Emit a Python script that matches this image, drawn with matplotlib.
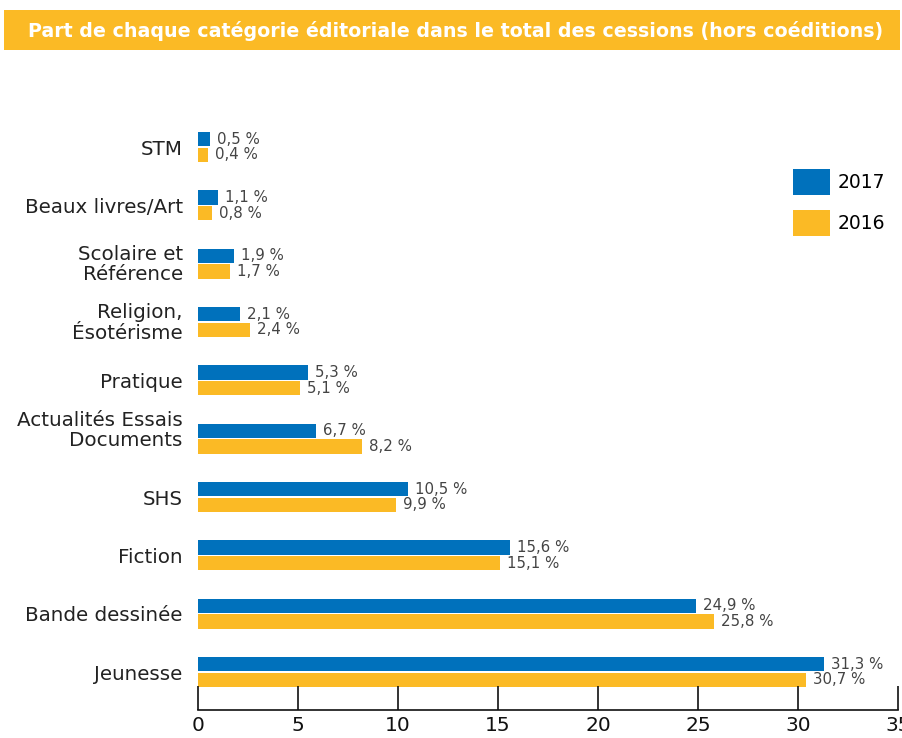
import matplotlib
matplotlib.use("Agg")
import matplotlib.pyplot as plt
from matplotlib.patches import Rectangle
from matplotlib.transforms import ScaledTranslation

categories = ["Jeunesse", "Bande dessinée", "Fiction", "SHS",
              "Actualités Essais\nDocuments", "Pratique", "Religion,\nÉsotérisme",
              "Scolaire et\nRéférence", "Beaux livres/Art", "STM"]
values_2017 = [31.3, 24.9, 15.6, 10.5, 5.9, 5.5, 2.1, 1.8, 1.0, 0.6]
values_2016 = [30.4, 25.8, 15.1, 9.9, 8.2, 5.1, 2.6, 1.6, 0.7, 0.5]
labels_2017 = ["31,3 %", "24,9 %", "15,6 %", "10,5 %", "6,7 %", "5,3 %", "2,1 %", "1,9 %", "1,1 %", "0,5 %"]
labels_2016 = ["30,7 %", "25,8 %", "15,1 %", "9,9 %", "8,2 %", "5,1 %", "2,4 %", "1,7 %", "0,8 %", "0,4 %"]
series_names = ["2017", "2016"]
xticks = [0, 5, 10, 15, 20, 25, 30, 35]
title = "Part de chaque catégorie éditoriale dans le total des cessions (hors coéditions)"

BLUE = "#0071BC"
YELLOW = "#FBBA25"
W, H = 903, 738

fig = plt.figure(figsize=(W / 100, H / 100), dpi=100)
fig.patch.set_facecolor("white")

# title banner
fig.patches.append(Rectangle((4 / W, 1 - 50 / H), 896 / W, 40 / H,
                             transform=fig.transFigure, facecolor=YELLOW,
                             edgecolor="none", zorder=0))
fig.text(456 / W, 1 - 31 / H, title, color="white", fontsize=13.7,
         fontweight="bold", ha="center", va="center")

ax = fig.add_axes([198 / W, (H - 710) / H, 700 / W, 598 / H])
ypos = list(range(len(categories)))
h = 0.245
off = 0.135
ax.barh([y + off for y in ypos], values_2017, height=h, color=BLUE, label=series_names[0])
ax.barh([y - off for y in ypos], values_2016, height=h, color=YELLOW, label=series_names[1])

for y, v, lab in zip(ypos, values_2017, labels_2017):
    ax.annotate(lab, (v, y + off), xytext=(5, 0), textcoords="offset points",
                va="center", ha="left", fontsize=10.8, color="#444444")
for y, v, lab in zip(ypos, values_2016, labels_2016):
    ax.annotate(lab, (v, y - off), xytext=(5, 0), textcoords="offset points",
                va="center", ha="left", fontsize=10.8, color="#444444")

ax.set_xlim(0, 35)
ax.set_ylim(-0.65, 9.6)
ax.set_xticks(xticks)
ax.set_xticklabels([str(t) for t in xticks], fontsize=14.5, color="#111111")
ax.set_yticks(ypos)
ax.set_yticklabels(categories, fontsize=14.3, color="#222222", ha="right",
                   multialignment="right")
ax.tick_params(axis="y", length=0, pad=11)
ax.tick_params(axis="x", direction="in", length=17, width=1.2, color="#111111", pad=4)
shifts = {"Actualités Essais\nDocuments": 11, "Religion,\nÉsotérisme": 2,
          "Scolaire et\nRéférence": 2}
for lbl in ax.get_yticklabels():
    lbl.set_linespacing(1.1)
    s = shifts.get(lbl.get_text(), 0)
    if s:
        lbl.set_transform(lbl.get_transform() + ScaledTranslation(0, s / 100, fig.dpi_scale_trans))
for s in ["top", "right", "left"]:
    ax.spines[s].set_visible(False)
ax.spines["bottom"].set_linewidth(1.2)
ax.spines["bottom"].set_color("#111111")

leg = ax.legend(loc="upper left", bbox_to_anchor=(595 / 700, 1 - 57 / 598),
                frameon=False, fontsize=13.5, handlelength=1.97, handleheight=1.75,
                labelspacing=0.8, handletextpad=0.43, borderaxespad=0, borderpad=0)

fig.savefig("out.png", dpi=100, facecolor="white")
